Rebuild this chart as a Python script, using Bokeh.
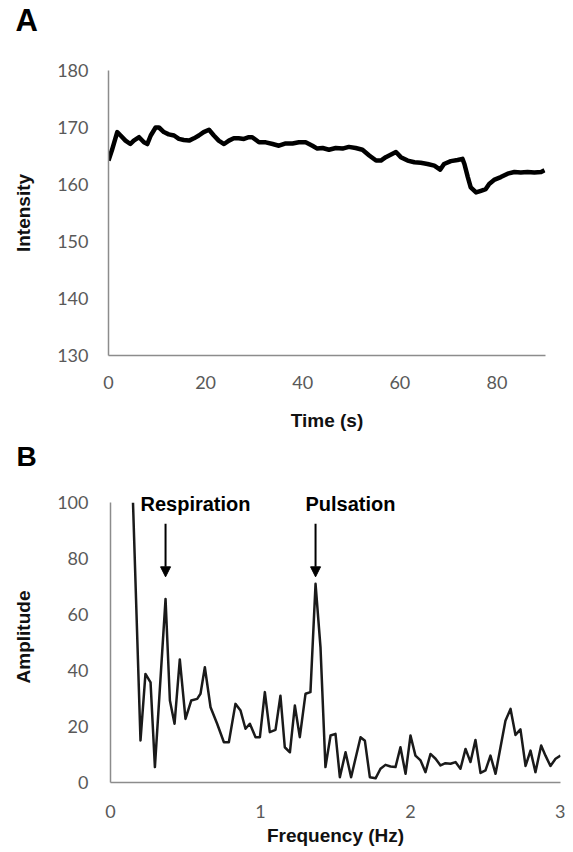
from bokeh.plotting import figure
from bokeh.models import FixedTicker, Range1d, Arrow, NormalHead, Label, Title
from bokeh.embed import file_html
from bokeh.resources import INLINE

# ---- Panel A data: intensity over time ----
time_s = [0, 0.7, 1.8, 2.5, 3.5, 4.5, 5.2, 6.3, 7.3, 8.0, 8.7, 9.7, 10.4, 11.4, 12.4,
          13.5, 14.5, 15.5, 16.6, 17.6, 18.6, 19.6, 20.7, 21.7, 22.7, 23.8, 24.8, 25.8,
          26.8, 27.9, 28.9, 29.6, 31.0, 32.4, 33.8, 35.1, 36.5, 37.9, 39.2, 40.6, 42.0,
          43.0, 44.1, 45.4, 46.8, 48.2, 49.5, 50.9, 52.3, 53.7, 55.1, 56.1, 57.1, 58.5,
          59.2, 60.2, 61.6, 63.0, 64.3, 65.7, 67.1, 68.3, 69.1, 70.5, 71.9, 72.9, 73.3,
          74.0, 74.6, 75.7, 76.7, 77.7, 78.4, 79.4, 80.8, 82.2, 83.6, 84.9, 86.3, 87.7,
          89.1, 89.8]
intensity = [164.2, 166.0, 169.2, 168.6, 167.7, 167.1, 167.7, 168.3, 167.4, 167.1, 168.6,
             170.0, 170.0, 169.2, 168.8, 168.6, 168.0, 167.8, 167.7, 168.1, 168.6, 169.2,
             169.6, 168.6, 167.7, 167.1, 167.7, 168.1, 168.1, 168.0, 168.3, 168.3, 167.4,
             167.4, 167.1, 166.8, 167.2, 167.2, 167.4, 167.4, 166.8, 166.3, 166.4, 166.1,
             166.4, 166.3, 166.6, 166.4, 166.1, 165.1, 164.2, 164.2, 164.8, 165.4, 165.7,
             164.8, 164.2, 163.9, 163.8, 163.6, 163.3, 162.6, 163.6, 164.1, 164.3, 164.5,
             163.6, 161.3, 159.5, 158.6, 158.9, 159.2, 160.1, 160.8, 161.3, 161.9, 162.2,
             162.1, 162.2, 162.1, 162.2, 162.5]
a_xticks = [0, 20, 40, 60, 80]
a_yticks = [130, 140, 150, 160, 170, 180]

# ---- Panel B data: amplitude spectrum ----
freq_hz = [0.15, 0.2, 0.233, 0.267, 0.296, 0.367, 0.396, 0.427, 0.462, 0.5, 0.538, 0.578,
           0.6, 0.629, 0.667, 0.711, 0.756, 0.789, 0.833, 0.867, 0.9, 0.929, 0.967, 0.996,
           1.029, 1.062, 1.1, 1.133, 1.162, 1.196, 1.229, 1.262, 1.3, 1.333, 1.367, 1.4,
           1.433, 1.467, 1.5, 1.529, 1.567, 1.604, 1.667, 1.696, 1.729, 1.767, 1.8, 1.833,
           1.867, 1.9, 1.933, 1.967, 2.0, 2.033, 2.067, 2.1, 2.133, 2.167, 2.2, 2.233,
           2.267, 2.3, 2.333, 2.367, 2.4, 2.433, 2.467, 2.5, 2.533, 2.567, 2.6, 2.633,
           2.667, 2.7, 2.733, 2.767, 2.8, 2.833, 2.871, 2.9, 2.933, 2.967, 3.0]
amplitude = [100, 15, 38.8, 35.8, 5.5, 65.6, 29.3, 21, 44, 22.7, 29.3, 29.9,
             31.7, 41.2, 26.9, 21, 14.4, 14.4, 28.1, 25.7, 19.2, 21, 16.2, 16.2,
             32.3, 18, 18.8, 31, 12.6, 10.8, 27.5, 16.2, 31.7, 32.3, 71, 48.3,
             5.5, 16.8, 17.4, 1.9, 10.8, 1.9, 16.2, 14.9, 1.9, 1.5, 4.9, 6.3,
             5.7, 5.5, 12.6, 3.1, 16.8, 9.6, 7.9, 3.7, 10.2, 8.5, 6.1, 6.9,
             6.7, 7.3, 4.9, 12, 7.3, 15.2, 3.4, 4.3, 9.6, 3.1, 12.6, 22.1,
             26.3, 17, 19, 5.9, 11.4, 3.7, 13.2, 9.6, 5.9, 8.5, 9.6]
b_xticks = [0, 1, 2, 3]
b_yticks = [0, 20, 40, 60, 80, 100]

peak_names = ["Respiration", "Pulsation"]
peak_freqs = [0.367, 1.367]

TICK_FONT = "Lato"
BOLD_FONT = "Liberation Sans"
TICK_COLOR = "#595959"
AXIS_COLOR = "#8c8c8c"


def style_axes(p):
    for ax in (p.xaxis[0], p.yaxis[0]):
        ax.axis_line_color = AXIS_COLOR
        ax.axis_line_width = 1.5
        ax.major_tick_line_color = None
        ax.minor_tick_line_color = None
        ax.major_tick_out = 0
        ax.major_tick_in = 0
        ax.major_label_text_font = TICK_FONT
        ax.major_label_text_font_size = "18px"
        ax.major_label_text_color = TICK_COLOR
        ax.axis_label_text_font = BOLD_FONT
        ax.axis_label_text_font_style = "bold"
        ax.axis_label_text_font_size = "19px"
        ax.axis_label_text_color = "#111111"
    p.xgrid.grid_line_color = None
    p.ygrid.grid_line_color = None
    p.outline_line_color = None


def add_panel_letter(p, letter, size, offset, gap):
    # spacer (closest to the frame), then the panel letter further out
    p.add_layout(Title(text=" ", text_font_size="10px", standoff=gap), "above")
    p.add_layout(Title(text=letter, text_font=BOLD_FONT, text_font_style="bold",
                       text_font_size=size, text_color="#000000", align="left",
                       offset=offset, standoff=0), "above")


# ---------------- Panel A ----------------
p1 = figure(width=565, height=436, output_backend="svg", toolbar_location=None,
            x_range=Range1d(0, 90), y_range=Range1d(130, 180),
            min_border_left=108, min_border_right=20, min_border_top=70,
            min_border_bottom=81)
p1.line(time_s, intensity, line_color="#000000", line_width=4.5, line_join="round")
style_axes(p1)
add_panel_letter(p1, "A", "31px", -93, 20)
p1.xaxis.ticker = FixedTicker(ticks=a_xticks)
p1.yaxis.ticker = FixedTicker(ticks=a_yticks)
p1.xaxis.axis_label = "Time (s)"
p1.yaxis.axis_label = "Intensity"
p1.xaxis.major_label_standoff = 20
p1.yaxis.major_label_standoff = 20
p1.xaxis.axis_label_standoff = 18
p1.yaxis.axis_label_standoff = 20

# ---------------- Panel B ----------------
p2 = figure(width=565, height=416, output_backend="svg", toolbar_location=None,
            x_range=Range1d(0, 3), y_range=Range1d(0, 104),
            min_border_left=110, min_border_right=5, min_border_top=55,
            min_border_bottom=70)
p2.line(freq_hz, amplitude, line_color="#1a1a1a", line_width=2.5, line_join="round")
style_axes(p2)
add_panel_letter(p2, "B", "28px", -94, 7)
p2.yaxis.bounds = (0, 100)
p2.xaxis.ticker = FixedTicker(ticks=b_xticks)
p2.yaxis.ticker = FixedTicker(ticks=b_yticks)
p2.xaxis.axis_label = "Frequency (Hz)"
p2.yaxis.axis_label = "Amplitude"
p2.xaxis.major_label_standoff = 22
p2.yaxis.major_label_standoff = 22
p2.xaxis.axis_label_standoff = 4
p2.yaxis.axis_label_standoff = 20

label_x = [0.2, 1.3]
for name, fx, lx in zip(peak_names, peak_freqs, label_x):
    p2.add_layout(Label(x=lx, y=99.5, text=name, text_font=BOLD_FONT,
                        text_font_style="bold", text_font_size="20px",
                        text_baseline="middle", text_color="#000000"))
    p2.add_layout(Arrow(x_start=fx, y_start=92.5, x_end=fx, y_end=73.5,
                        line_color="#000000", line_width=2,
                        end=NormalHead(size=10, fill_color="#000000",
                                       line_color="#000000")))

open("out.html", "w").write(file_html([p1, p2], INLINE))
